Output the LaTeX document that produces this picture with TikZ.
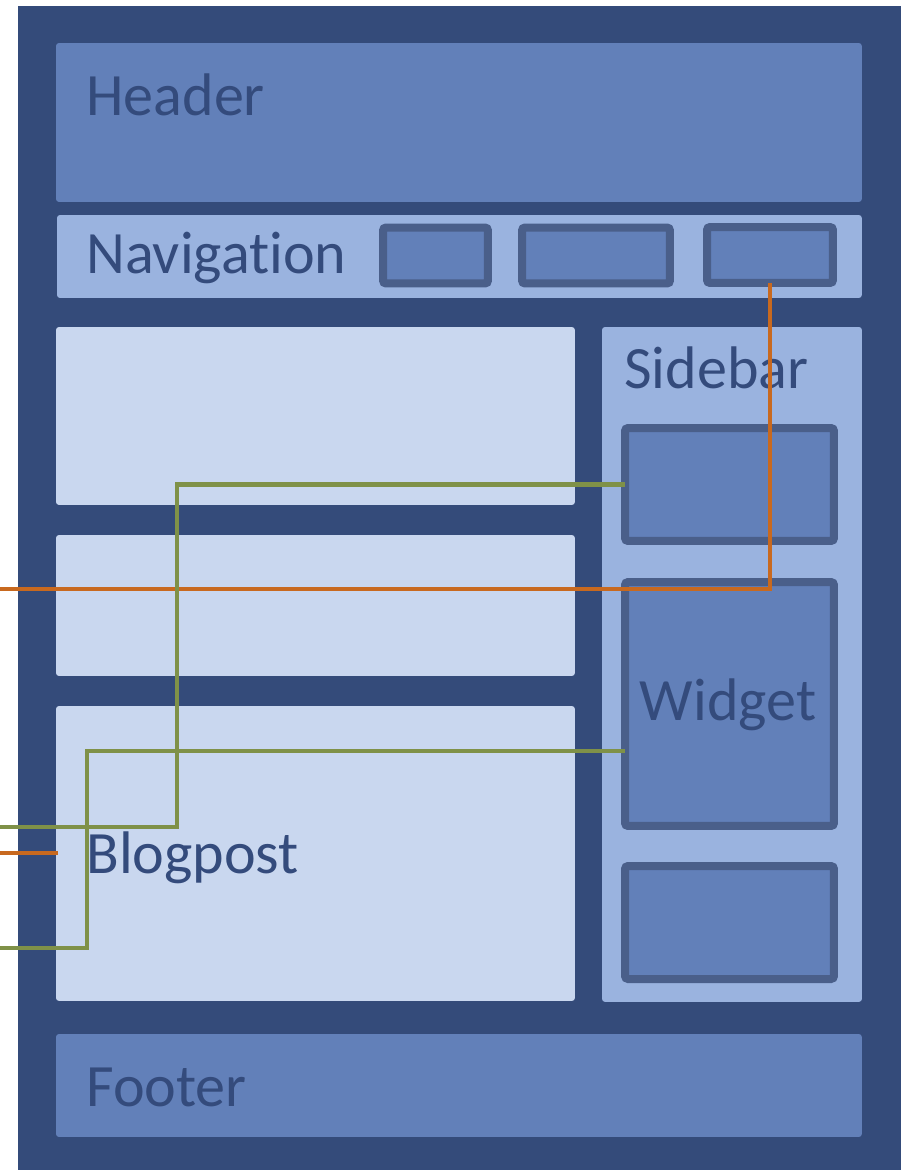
\documentclass[tikz,border=0pt]{standalone}
\usepackage{fontspec}
\setmainfont{Carlito}[Ligatures=CommonOff]
\definecolor{frameblue}{HTML}{344B7A}
\definecolor{midblue}{HTML}{6280B9}
\definecolor{lightblue}{HTML}{9AB3DF}
\definecolor{paleblue}{HTML}{C9D7EF}
\definecolor{edgeblue}{HTML}{4A5F8A}
\definecolor{textblue}{HTML}{344B7C}
\definecolor{linkorange}{HTML}{C8691F}
\definecolor{linkgreen}{HTML}{7F9148}
\tikzset{
  area/.style={rectangle, rounded corners=0.06cm, inner sep=0pt, outer sep=0pt, anchor=north west},
  widgetbox/.style={rectangle, draw=edgeblue, fill=midblue, line width=0.16cm, rounded corners=0.06cm, inner sep=0pt, outer sep=0pt},
  boxtext/.style={anchor=base west, inner sep=0pt, text=textblue, font=\fontsize{34.2}{40}\selectfont},
  orangelink/.style={draw=linkorange, line width=0.095cm},
  greenlink/.style={draw=linkgreen, line width=0.095cm}
}
\begin{document}
\begin{tikzpicture}[x=0.02cm, y=-0.02cm]
\useasboundingbox (0,0) rectangle (908,1170);
% Page frame
\fill[frameblue] (18,6) rectangle (901,1170);

% Header and navigation bar
\node[area, fill=midblue, minimum width=16.12cm, minimum height=3.18cm] (header) at (56,43) {};
\node[boxtext] (headertext) at (86,115) {Header};
\node[area, fill=lightblue, minimum width=16.10cm, minimum height=1.66cm] (nav) at (57,215) {};
\node[boxtext] (navtext) at (86,273) {Navigation};
\node[widgetbox, minimum width=2.10cm, minimum height=1.12cm] (nav1) at (435.5,255.5) {};
\node[widgetbox, minimum width=2.96cm, minimum height=1.12cm] (nav2) at (596,255.5) {};
\node[widgetbox, minimum width=2.52cm, minimum height=1.12cm] (nav3) at (770,255) {};

% Blog posts
\node[area, fill=paleblue, minimum width=10.38cm, minimum height=3.56cm] (post1) at (56,327) {};
\node[area, fill=paleblue, minimum width=10.38cm, minimum height=2.82cm] (post2) at (56,535) {};
\node[area, fill=paleblue, minimum width=10.38cm, minimum height=5.90cm] (post3) at (56,706) {};
\node[boxtext] (posttext) at (86,873) {Blogpost};

% Sidebar with widgets
\node[area, fill=lightblue, minimum width=5.20cm, minimum height=13.5cm] (sidebar) at (602,327) {};
\node[boxtext] (sidebartext) at (624,388) {Sidebar};
\node[widgetbox, minimum width=4.18cm, minimum height=2.26cm] (widget1) at (729.5,484.5) {};
\node[widgetbox, minimum width=4.18cm, minimum height=4.88cm] (widget2) at (729.5,704) {};
\node[boxtext, anchor=base] (widgettext) at (728,720) {Widget};
\node[widgetbox, minimum width=4.18cm, minimum height=2.26cm] (widget3) at (729.5,922.5) {};

% Footer
\node[area, fill=midblue, minimum width=16.12cm, minimum height=2.06cm] (footer) at (56,1034) {};
\node[boxtext] (footertext) at (86,1106) {Footer};

% Links leaving the page
\coordinate (orangeend) at (0,589);
\coordinate (stubstart) at (0,853);
\coordinate (stubend) at (58,853);
\coordinate (greenbendA) at (177,827);
\coordinate (greenendA) at (0,827);
\coordinate (greenbendB) at (87,751);
\coordinate (greenendB) at (0,948);
\draw[orangelink] (nav3.south) |- (orangeend);
\draw[orangelink] (stubstart) -- (stubend);
\draw[greenlink] (widget1.west) -| (greenbendA) -- (greenendA);
\draw[greenlink] (greenbendB -| widget2.west) -- (greenbendB) |- (greenendB);
\end{tikzpicture}
\end{document}
